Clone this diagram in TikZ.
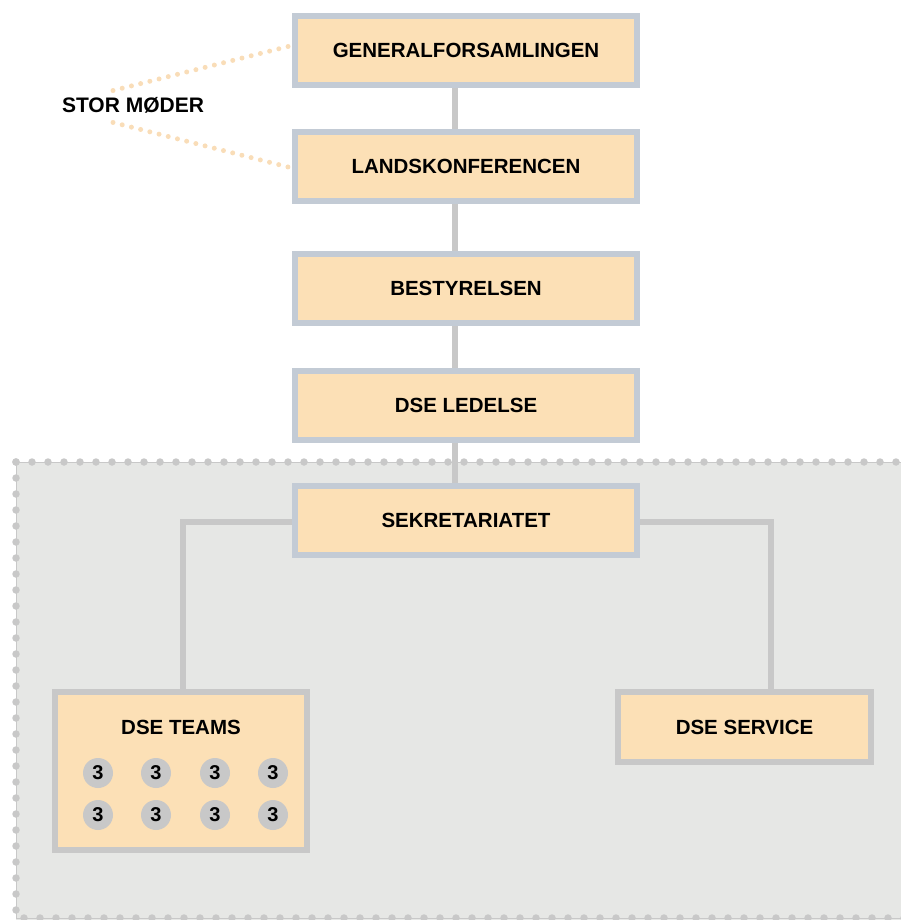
\documentclass[tikz,border=0pt]{standalone}
\usepackage{fontspec}
\setmainfont{Liberation Sans}
\usepackage{tikz}
\usetikzlibrary{calc}
\usepackage{xcolor}
\definecolor{box_fill}{HTML}{FCE0B6}
\definecolor{box_line}{HTML}{C3CBD5}
\definecolor{line_gray}{HTML}{C8C8C8}
\definecolor{bg_gray}{HTML}{E6E7E5}
\definecolor{dot_orange}{HTML}{F9DDB8}

\tikzset{
	orgbox/.style={draw=box_line, fill=box_fill, line width=6pt, minimum width=342pt, minimum height=69pt, font=\bfseries\fontsize{20.5}{24}\selectfont},
	unitbox/.style={orgbox, draw=line_gray},
	link/.style={draw=line_gray, line width=6pt},
	meetdots/.style={draw=dot_orange, line width=5pt, line cap=round, dash pattern=on 0pt off 9.5pt},
	griddots/.style={draw=line_gray, line width=7.5pt, line cap=round, dash pattern=on 0pt off 16pt},
	gridline/.style={draw=line_gray, line width=0.8pt},
	teamdot/.style={circle, fill=line_gray, minimum size=30pt, inner sep=0pt, font=\bfseries\fontsize{20}{24}\selectfont}
}

\begin{document}
\begin{tikzpicture}[x=1pt, y=-1pt]
	\useasboundingbox (0, 0) rectangle (901, 920);
	\fill[bg_gray] (16, 462) rectangle (940, 940);
	\draw[gridline] (940, 462) -- (16, 462) -- (16, 918) -- (940, 918);
	\draw[griddots] (16, 462) -- (928, 462);
	\draw[griddots] (16, 462) -- (16, 918) -- (928, 918);

	\node[orgbox] (gen) at (466, 50.5) {GENERALFORSAMLINGEN};
	\node[orgbox] (land) at (466, 166.5) {LANDSKONFERENCEN};
	\node[orgbox] (best) at (466, 288.5) {BESTYRELSEN};
	\node[orgbox] (led) at (466, 405.5) {DSE LEDELSE};
	\node[orgbox] (sek) at (466, 520) {SEKRETARIATET};
	\node[unitbox, minimum width=252pt, minimum height=158pt] (teams) at (181, 771) {};
	\node[unitbox, minimum width=253pt, minimum height=70pt] (service) at (744.5, 727) {DSE SERVICE};
	\node[font=\bfseries\fontsize{20.5}{24}\selectfont] (teamstitle) at (181, 727) {DSE TEAMS};
	\node[font=\bfseries\fontsize{21}{25}\selectfont] (stor) at (133, 105) {STOR MØDER};

	\foreach \x [count=\i] in {98, 156, 215, 273} {
		\node[teamdot] (t1\i) at (\x, 773) {3};
		\node[teamdot] (t2\i) at (\x, 815) {3};
	}

	\draw[link] ($(gen.south) + (-11, 0)$) -- ($(land.north) + (-11, 0)$);
	\draw[link] ($(land.south) + (-11, 0)$) -- ($(best.north) + (-11, 0)$);
	\draw[link] ($(best.south) + (-11, 0)$) -- ($(led.north) + (-11, 0)$);
	\draw[link] ($(led.south) + (-11, 0)$) -- ($(sek.north) + (-11, 0)$);
	\draw[link] ($(sek.west) + (0, 2)$) -| ($(teams.north) + (2, 0)$);
	\draw[link] ($(sek.east) + (0, 2)$) -| ($(service.north) + (26.5, 0)$);

	\coordinate (m1) at ($(stor.north) + (-20, -3)$);
	\coordinate (m2) at ($(stor.south) + (-20, 6)$);
	\draw[meetdots] (m1) -- ($(gen.west) + (0, -5)$);
	\draw[meetdots] (m2) -- ($(land.west) + (0, 1.5)$);
\end{tikzpicture}
\end{document}
